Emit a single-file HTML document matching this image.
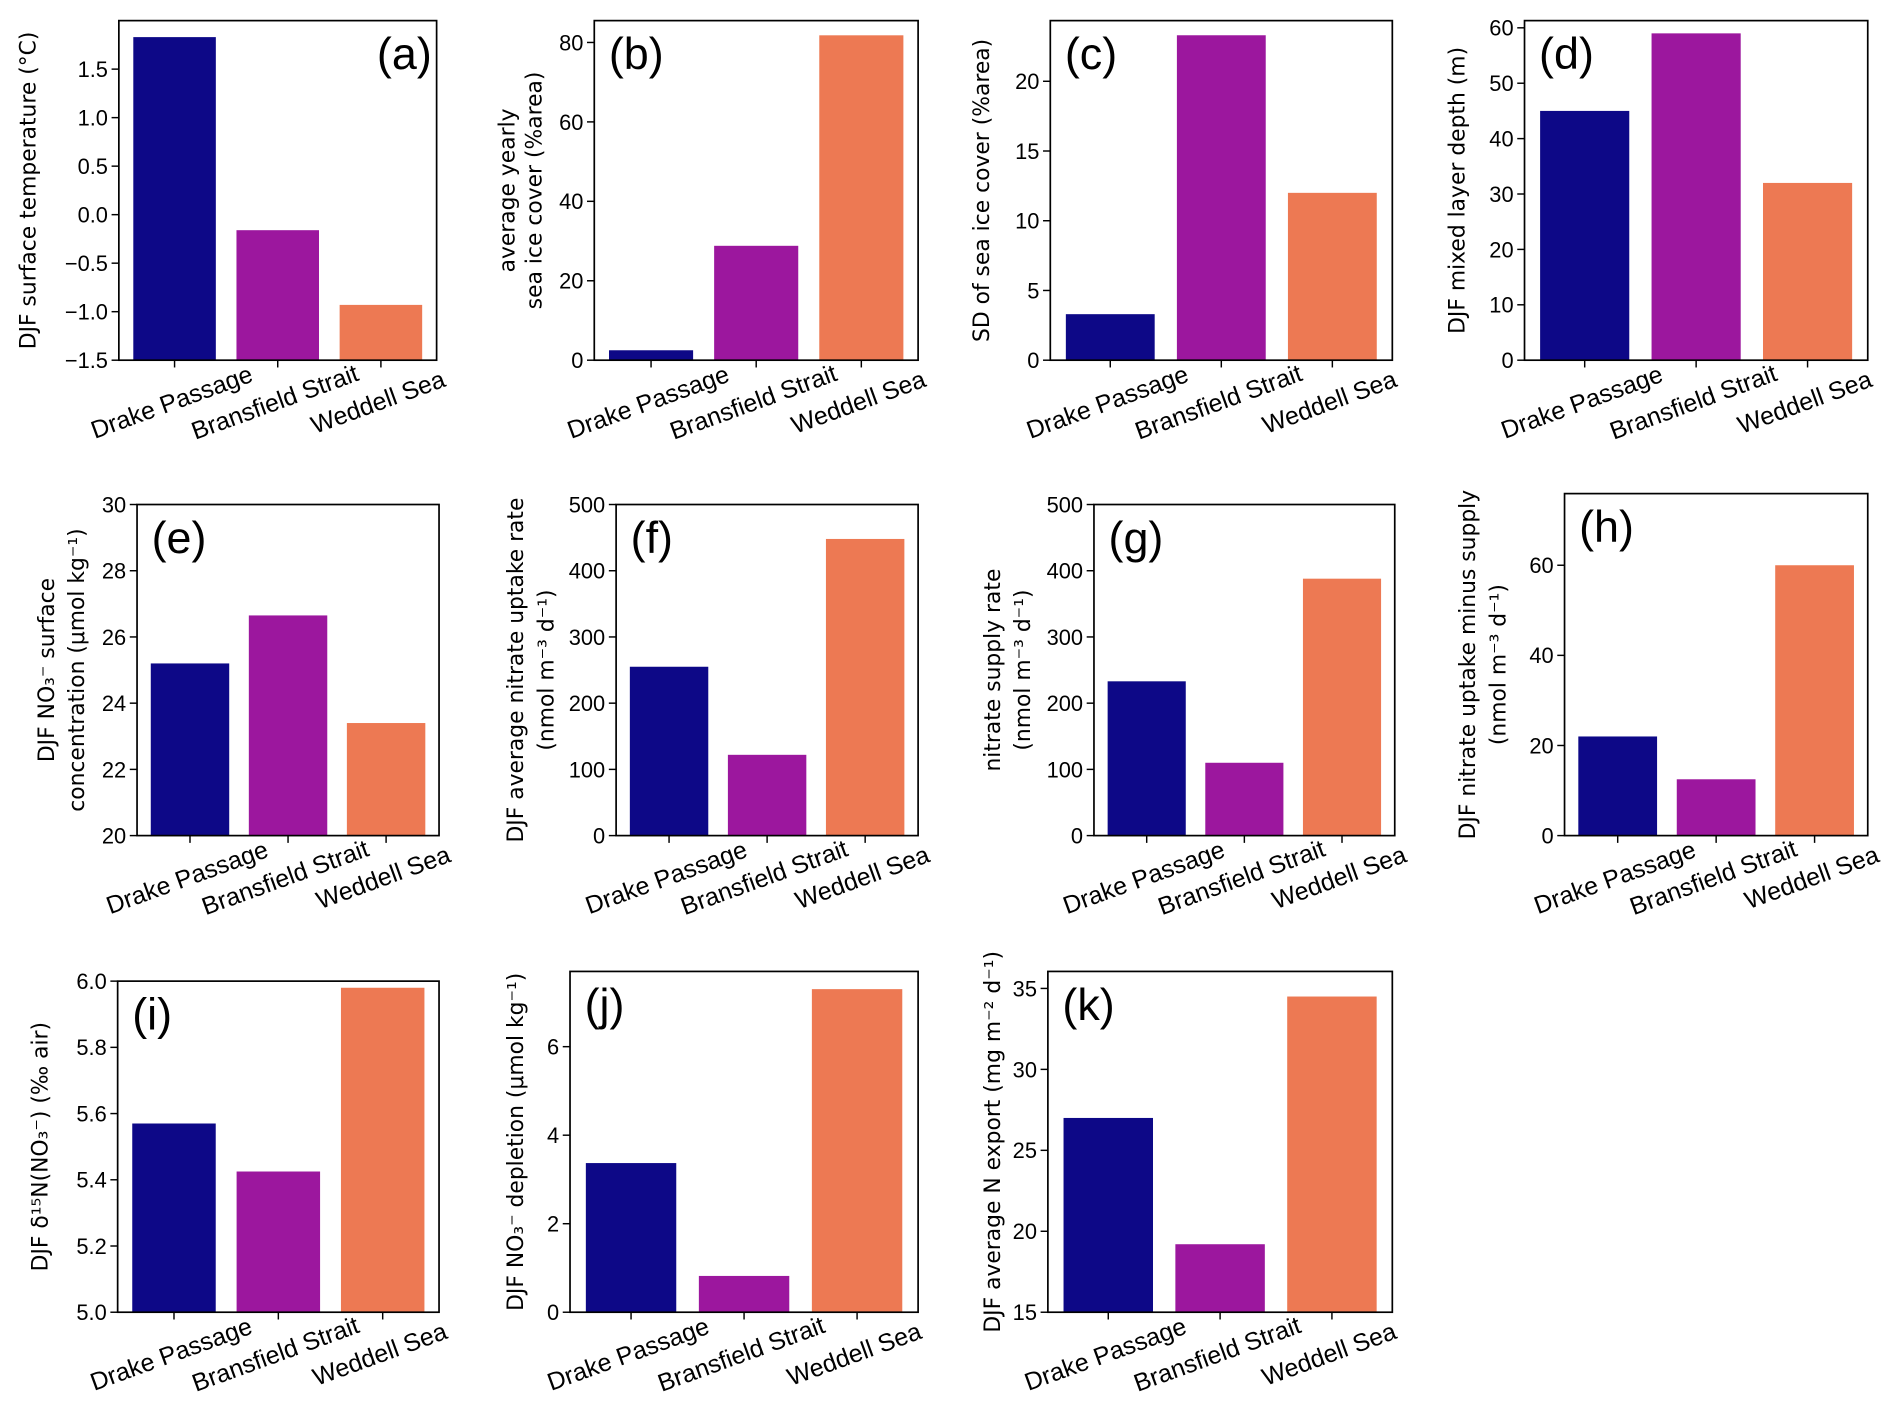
<!DOCTYPE html>
<html><head><meta charset="utf-8"><style>
html,body{margin:0;padding:0;background:#fff;}
svg{display:block;}
text{font-family:"DejaVu Sans","Liberation Sans",sans-serif;fill:#000;}
.tk{font-family:"Liberation Sans",sans-serif;font-size:18px;}
.xl{font-family:"Liberation Sans",sans-serif;font-size:20.5px;}
.yl{font-size:18px;}
.pl{font-family:"Liberation Sans",sans-serif;font-size:37px;}
</style></head><body>
<svg id="fig" width="1892" height="1405" viewBox="0 0 1560 1158.5" preserveAspectRatio="none" xmlns="http://www.w3.org/2000/svg"></svg>
<script>
const categories = ["Drake Passage","Bransfield Strait","Weddell Sea"];
const colors = ["#0d0887","#9c179e","#ed7953"];
const valsA = [1.83,-0.16,-0.93];
const valsB = [2.5,28.8,81.8];
const valsC = [3.3,23.3,12.0];
const valsD = [45,59,32];
const valsE = [25.2,26.65,23.4];
const valsF = [255,122,448];
const valsG = [233,110,388];
const valsH = [22,12.5,60];
const valsI = [5.57,5.425,5.98];
const valsJ = [3.37,0.82,7.3];
const valsK = [27,19.2,34.5];
const ticksA = ["-1.5","-1.0","-0.5","0.0","0.5","1.0","1.5"];
const ticksB = ["0","20","40","60","80"];
const ticksC = ["0","5","10","15","20"];
const ticksD = ["0","10","20","30","40","50","60"];
const ticksE = ["20","22","24","26","28","30"];
const ticksF = ["0","100","200","300","400","500"];
const ticksH = ["0","20","40","60"];
const ticksI = ["5.0","5.2","5.4","5.6","5.8","6.0"];
const ticksJ = ["0","2","4","6"];
const ticksK = ["15","20","25","30","35"];

const panels = [
 {id:"a",x0:98,x1:360,y0:17,y1:297,lo:-1.5,hi:2.0,v:valsA,t:ticksA,lab:["DJF surface temperature (°C)"],lx:[24],right:true},
 {id:"b",x0:490,x1:757,y0:17,y1:297,lo:0,hi:85.5,v:valsB,t:ticksB,lab:["average yearly","sea ice cover (%area)"],lx:[419,441]},
 {id:"c",x0:866,x1:1148,y0:17,y1:297,lo:0,hi:24.35,v:valsC,t:ticksC,lab:["SD of sea ice cover (%area)"],lx:[810]},
 {id:"d",x0:1257,x1:1540,y0:17,y1:297,lo:0,hi:61.3,v:valsD,t:ticksD,lab:["DJF mixed layer depth (m)"],lx:[1202]},
 {id:"e",x0:113,x1:362,y0:416,y1:689,lo:20,hi:30,v:valsE,t:ticksE,lab:["DJF NO₃⁻ surface","concentration (μmol kg⁻¹)"],lx:[39,64]},
 {id:"f",x0:508,x1:757,y0:416,y1:689,lo:0,hi:500,v:valsF,t:ticksF,lab:["DJF average nitrate uptake rate","(nmol m⁻³ d⁻¹)"],lx:[426,451]},
 {id:"g",x0:902,x1:1150,y0:416,y1:689,lo:0,hi:500,v:valsG,t:ticksF,lab:["nitrate supply rate","(nmol m⁻³ d⁻¹)"],lx:[819,844]},
 {id:"h",x0:1290,x1:1540,y0:407,y1:689,lo:0,hi:75.9,v:valsH,t:ticksH,lab:["DJF nitrate uptake minus supply","(nmol m⁻³ d⁻¹)"],lx:[1211,1236]},
 {id:"i",x0:97,x1:362,y0:809,y1:1082,lo:5.0,hi:6.0,v:valsI,t:ticksI,lab:["DJF δ¹⁵N(NO₃⁻) (‰ air)"],lx:[34]},
 {id:"j",x0:470,x1:757,y0:801,y1:1082,lo:0,hi:7.7,v:valsJ,t:ticksJ,lab:["DJF NO₃⁻ depletion (μmol kg⁻¹)"],lx:[426]},
 {id:"k",x0:864,x1:1148,y0:801,y1:1082,lo:15,hi:36.05,v:valsK,t:ticksK,lab:["DJF average N export (mg m⁻² d⁻¹)"],lx:[819]}
];
const NS="http://www.w3.org/2000/svg";
const fig=document.getElementById("fig");
function mk(tag,attrs,parent,txt){const e=document.createElementNS(NS,tag);for(const k in attrs)e.setAttribute(k,attrs[k]);if(txt!==undefined)e.textContent=txt;parent.appendChild(e);return e;}
panels.forEach(p=>{
  const g=mk("g",{},fig);
  
  
  const xs=c=>p.x0+(c+0.54)/3.08*(p.x1-p.x0);
  const ys=v=>p.y1-(v-p.lo)/(p.hi-p.lo)*(p.y1-p.y0);
  p.v.forEach((v,i)=>{
    const r=mk("rect",{x:xs(i-0.4),y:Math.min(ys(v),p.y1),width:xs(i+0.4)-xs(i-0.4),height:Math.abs(p.y1-ys(v)),fill:colors[i]},g);
    
    
    mk("line",{x1:xs(i),x2:xs(i),y1:p.y1,y2:p.y1+6,stroke:"#000","stroke-width":1.2},g);
    const tx=xs(i), ty=p.y1+41;
    const t=mk("text",{class:"xl",x:tx,y:ty,"text-anchor":"middle",transform:`rotate(-20 ${tx} ${ty})`},g,categories[i]);
    
    
  });
  p.t.forEach(s=>{
    const y=ys(parseFloat(s));
    mk("line",{x1:p.x0-6,x2:p.x0,y1:y,y2:y,stroke:"#000","stroke-width":1.2},g);
    const t=mk("text",{class:"tk",x:p.x0-9,y:y+6.5,"text-anchor":"end"},g,s.replace("-","−"));
    
    
  });
  const fr=mk("rect",{x:p.x0,y:p.y0,width:p.x1-p.x0,height:p.y1-p.y0,fill:"none",stroke:"#000","stroke-width":1.4},g);
  
  
  const cy=(p.y0+p.y1)/2;
  p.lab.forEach((s,i)=>{
    const lx=p.lx[i];
    const t=mk("text",{class:"yl",x:lx,y:cy,"text-anchor":"middle","dominant-baseline":"central",transform:`rotate(-90 ${lx} ${cy})`},g,s);
    
    
  });
  const pl=mk("text",{class:"pl",x:p.right?p.x1-4:p.x0+12,y:p.y0+40,"text-anchor":p.right?"end":"start"},g,"("+p.id+")");
  
  
});
</script>
</body></html>
